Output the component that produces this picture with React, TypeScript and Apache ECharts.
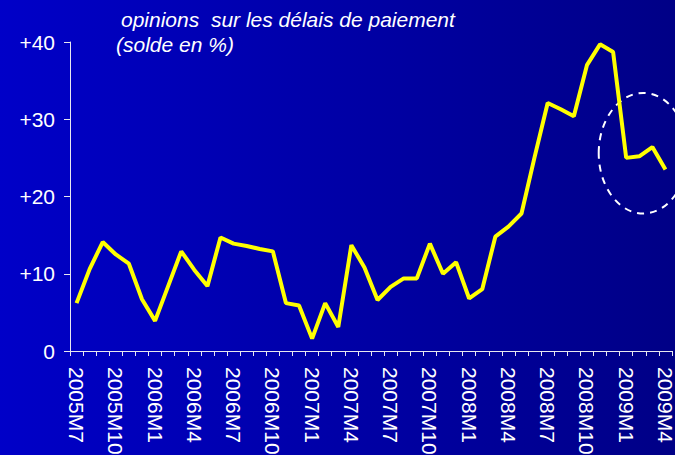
import React, { useEffect, useRef } from "react";
import * as echarts from "echarts";

const categories: string[] = [];
(function build() {
  // monthly categories from 2005M7 to 2009M4
  let y = 2005, m = 7;
  while (y < 2009 || (y === 2009 && m <= 4)) {
    categories.push(`${y}M${m}`);
    m++;
    if (m > 12) { m = 1; y++; }
  }
})();

const values = [
  6.2, 10.6, 14.1, 12.5, 11.3, 6.7, 3.9, 8.4, 12.9, 10.5,
  8.4, 14.7, 13.9, 13.6, 13.2, 12.9, 6.2, 5.9, 1.6, 6.2,
  3.1, 13.7, 10.8, 6.6, 8.3, 9.4, 9.4, 13.9, 10.0, 11.5,
  6.8, 8.0, 14.8, 16.1, 17.8, 25.1, 32.1, 31.3, 30.4, 37.0,
  39.7, 38.7, 25.0, 25.2, 26.4, 23.5,
];

const yTicks = [0, 10, 20, 30, 40];
const titleLine1 = "opinions\u00a0 sur les délais de paiement";
const titleLine2 = "(solde en %)";

// highlighted area (category index, value) with radii in categories / value units
const highlight = { idx: 43.3, value: 25.6, rIdx: 3.4, rValue: 7.8 };

export default function App() {
  const ref = useRef<HTMLDivElement>(null);
  useEffect(() => {
    if (!ref.current) return;
    const chart = echarts.init(ref.current, null, { renderer: "svg" });
    const font = "Liberation Sans, Arial, sans-serif";
    chart.setOption({
      animation: false,
      backgroundColor: {
        type: "linear",
        x: 0, y: 0, x2: 1, y2: 0,
        colorStops: [
          { offset: 0, color: "#0000C8" },
          { offset: 1, color: "#000086" },
        ],
      },
      title: [
        {
          text: titleLine1,
          left: 116,
          top: 4,
          textStyle: { color: "#FFFFFF", fontSize: 21, fontStyle: "italic", fontWeight: "normal", fontFamily: font },
        },
        {
          text: titleLine2,
          left: 111,
          top: 29,
          textStyle: { color: "#FFFFFF", fontSize: 21, fontStyle: "italic", fontWeight: "normal", fontFamily: font },
        },
      ],
      grid: { left: 70, right: 3, top: 42, bottom: 104, containLabel: false, outerBoundsMode: "none" },
      xAxis: {
        type: "category",
        data: categories,
        boundaryGap: true,
        axisLine: { lineStyle: { color: "#E8E8F0", width: 1 } },
        axisTick: { show: true, interval: 0, length: 5, lineStyle: { color: "#E8E8F0" } },
        axisLabel: {
          interval: 2,
          rotate: -90,
          margin: 16,
          color: "#FFFFFF",
          fontSize: 21,
          lineHeight: 17,
          fontFamily: font,
        },
        splitLine: { show: false },
      },
      yAxis: {
        type: "value",
        min: yTicks[0],
        max: yTicks[yTicks.length - 1],
        interval: 10,
        axisLine: { show: true, lineStyle: { color: "#E8E8F0", width: 1 } },
        axisTick: { show: true, length: 6, lineStyle: { color: "#E8E8F0" } },
        axisLabel: {
          color: "#FFFFFF",
          fontSize: 21,
          fontFamily: font,
          margin: 15,
          formatter: (v: number) => (v > 0 ? "+" + v : String(v)),
        },
        splitLine: { show: false },
      },
      series: [
        {
          type: "line",
          data: values,
          symbol: "none",
          lineStyle: { color: "#FFFF00", width: 4 },
          itemStyle: { color: "#FFFF00" },
        },
      ],
    });

    const i0 = Math.floor(highlight.idx);
    const p0 = chart.convertToPixel({ xAxisIndex: 0, yAxisIndex: 0 }, [i0, highlight.value]) as number[];
    const p1 = chart.convertToPixel({ xAxisIndex: 0, yAxisIndex: 0 }, [i0 + 1, highlight.value + highlight.rValue]) as number[];
    const step = p1[0] - p0[0];
    const cx = p0[0] + (highlight.idx - i0) * step;
    const cy = p0[1];
    chart.setOption({
      graphic: [
        {
          type: "ellipse",
          shape: { cx, cy, rx: highlight.rIdx * step, ry: Math.abs(p0[1] - p1[1]) },
          style: { fill: "none", stroke: "#FFFFFF", lineWidth: 2, lineDash: [7, 6] },
          silent: true,
        },
      ],
    });
    return () => chart.dispose();
  }, []);
  return (
    <div
      ref={ref}
      style={{ position: "fixed", left: 0, top: 0, width: 675, height: 455 }}
    />
  );
}
